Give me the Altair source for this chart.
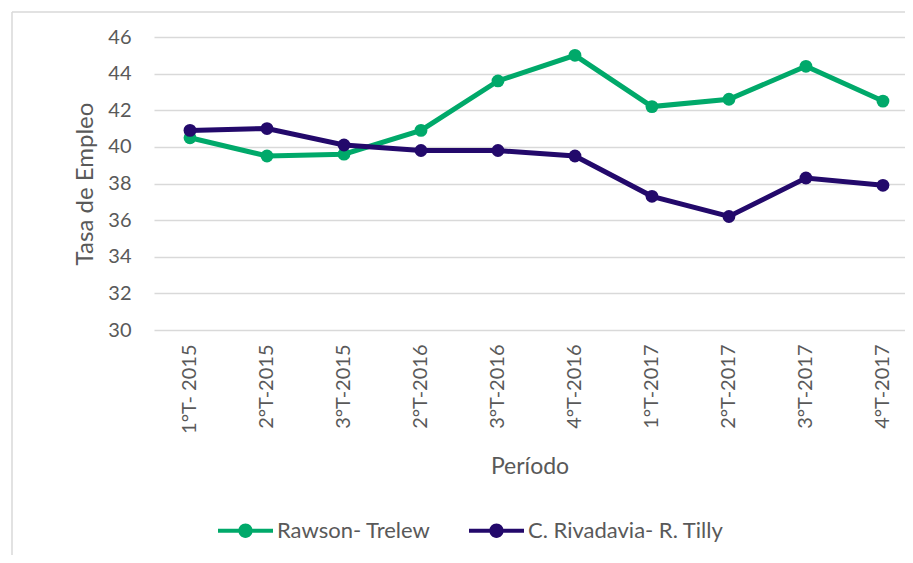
import altair as alt
import pandas as pd

periods = ["1°T- 2015", "2°T-2015", "3°T-2015", "2°T-2016", "3°T-2016",
           "4°T-2016", "1°T-2017", "2°T-2017", "3°T-2017", "4°T-2017"]
series_names = ["Rawson- Trelew", "C. Rivadavia- R. Tilly"]
rawson = [40.5, 39.5, 39.6, 40.9, 43.6, 45.0, 42.2, 42.6, 44.4, 42.5]
rivadavia = [40.9, 41.0, 40.1, 39.8, 39.8, 39.5, 37.3, 36.2, 38.3, 37.9]
y_ticks = [30, 32, 34, 36, 38, 40, 42, 44, 46]
colors = ["#00A96A", "#23096B"]

rows = []
for name, vals in zip(series_names, [rawson, rivadavia]):
    for p, v in zip(periods, vals):
        rows.append({"Período": p, "Serie": name, "Tasa": v})
df = pd.DataFrame(rows)

FONT = "Lato"
TXT = "#595959"
GRID = "#D9D9D9"

legend_path = ("M-1,-0.075 L-0.25,-0.075 L-0.25,0.075 L-1,0.075 Z "
               "M0.25,-0.075 L1,-0.075 L1,0.075 L0.25,0.075 Z "
               "M-0.26,0 A0.26,0.26 0 1,1 0.26,0 A0.26,0.26 0 1,1 -0.26,0 Z")

x_enc = alt.X("Período:N", sort=periods,
              scale=alt.Scale(type="point", padding=0.377, align=0.62),
              axis=alt.Axis(title="Período", labelAngle=-90, ticks=False, domain=False,
                            grid=False, labelPadding=14, titlePadding=22,
                            labelFontSize=20, titleFontSize=23, labelColor=TXT,
                            titleColor=TXT, titleFontWeight="normal",
                            labelFont=FONT, titleFont=FONT))
y_enc = alt.Y("Tasa:Q", scale=alt.Scale(domain=[30, 46], nice=False, zero=False),
              axis=alt.Axis(title="Tasa de Empleo", values=y_ticks, ticks=False,
                            domain=False, grid=True, gridColor=GRID, gridWidth=1.5,
                            labelPadding=23, titlePadding=10, labelFontSize=20,
                            titleFontSize=24, labelColor=TXT, titleColor=TXT,
                            titleFontWeight="normal", labelFont=FONT, titleFont=FONT))
color_enc = alt.Color("Serie:N", sort=series_names,
                      scale=alt.Scale(domain=series_names, range=colors),
                      legend=alt.Legend(title=None, orient="none", direction="horizontal",
                                        legendX=64, legendY=466,
                                        symbolType=legend_path, symbolSize=3025,
                                        symbolStrokeWidth=0, labelFontSize=22,
                                        labelFont=FONT, labelColor=TXT, labelLimit=500,
                                        labelOffset=4, columnPadding=38))

layers = []
for name in series_names:
    base = alt.Chart(df).transform_filter(alt.datum.Serie == name).encode(
        x=x_enc, y=y_enc, color=color_enc)
    layers.append(base.mark_line(strokeWidth=5))
    layers.append(base.mark_point(filled=True, size=165, opacity=1))

frame = alt.Chart(pd.DataFrame({"a": [0]})).mark_rule(color=GRID, strokeWidth=1.5).encode(
    x=alt.value(-142), x2=alt.value(760), y=alt.value(-25))
frame2 = alt.Chart(pd.DataFrame({"a": [0]})).mark_rule(color=GRID, strokeWidth=1.5).encode(
    x=alt.value(-142), y=alt.value(-25), y2=alt.value(530))

chart = alt.layer(frame, frame2, *layers).properties(
    width=751, height=293,
    autosize=alt.AutoSizeParams(type="none"),
    padding={"left": 146, "top": 29, "right": 0, "bottom": 225},
).configure_view(stroke=None)

chart.save("out.html", embed_options={"renderer": "svg", "actions": False})
